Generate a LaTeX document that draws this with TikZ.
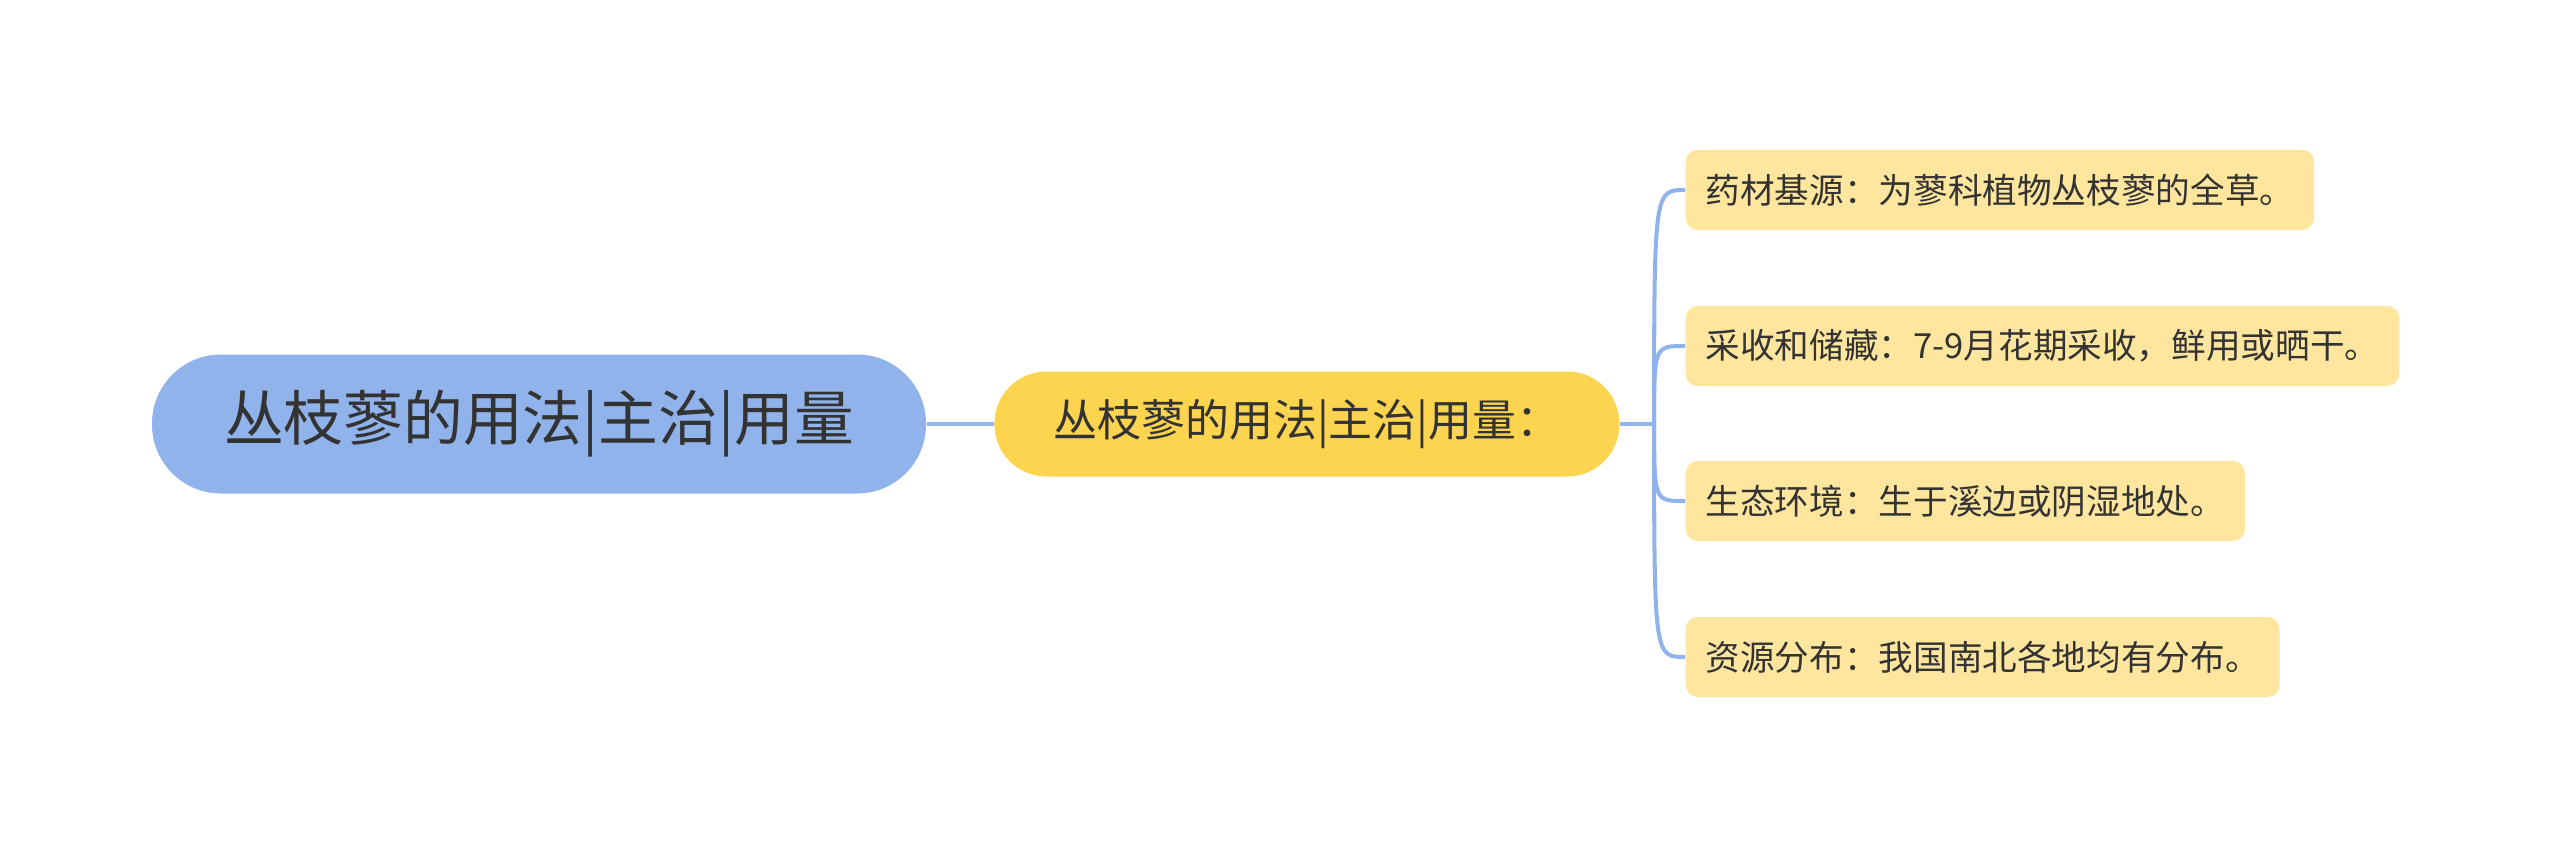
\documentclass[tikz,border=0pt]{standalone}
\usepackage{fontspec}
\newfontfamily\cjk{Noto Sans CJK SC}
\usepackage{tikz}
\usetikzlibrary{calc,positioning}

\definecolor{rootblue}{HTML}{8FB3EA}
\definecolor{subgold}{HTML}{FDD44F}
\definecolor{leafcream}{HTML}{FEE69E}
\definecolor{linkblue}{HTML}{8FB3EA}
\definecolor{inkgray}{HTML}{333333}

\begin{document}
\begin{tikzpicture}[
  rootbox/.style={fill=rootblue, rounded corners=0.69cm, minimum width=7.74cm, minimum height=1.39cm, inner sep=0pt, text=inkgray, font=\cjk\fontsize{17pt}{20pt}\selectfont},
  subbox/.style={fill=subgold, rounded corners=0.52cm, minimum width=6.25cm, minimum height=1.05cm, inner sep=0pt, text=inkgray, font=\cjk\fontsize{12.5pt}{15pt}\selectfont},
  leafbox/.style={fill=leafcream, rounded corners=0.12cm, anchor=west, minimum height=0.80cm, inner xsep=0.2cm, inner ysep=0pt, text=inkgray, font=\cjk\fontsize{9.85pt}{12pt}\selectfont},
  link/.style={draw=linkblue, line width=1.15pt}]

    \useasboundingbox (0,0) rectangle (25.6,-8.49);

    \node[rootbox]                  (root) at (5.39,-4.24) {丛枝蓼的用法|主治|用量};
    \node[subbox, right=0.67cm of root] (sub)  {丛枝蓼的用法|主治|用量：};

    \coordinate[right=0.34cm of sub.east] (junc);

    \node[leafbox] (origin)  at (16.85,-1.90) {药材基源：为蓼科植物丛枝蓼的全草。};
    \node[leafbox] (harvest) at (16.85,-3.46) {采收和储藏：7-9月花期采收，鲜用或晒干。};
    \node[leafbox] (habitat) at (16.85,-5.01) {生态环境：生于溪边或阴湿地处。};
    \node[leafbox] (range)   at (16.85,-6.57) {资源分布：我国南北各地均有分布。};

    \draw[link] (root) -- (sub);
    \draw[link] (sub) -- (junc);

    \foreach \leaf in {origin, harvest, habitat, range}
      \draw[link] (junc) .. controls (junc |- \leaf.west) .. (\leaf.west);

\end{tikzpicture}
\end{document}
